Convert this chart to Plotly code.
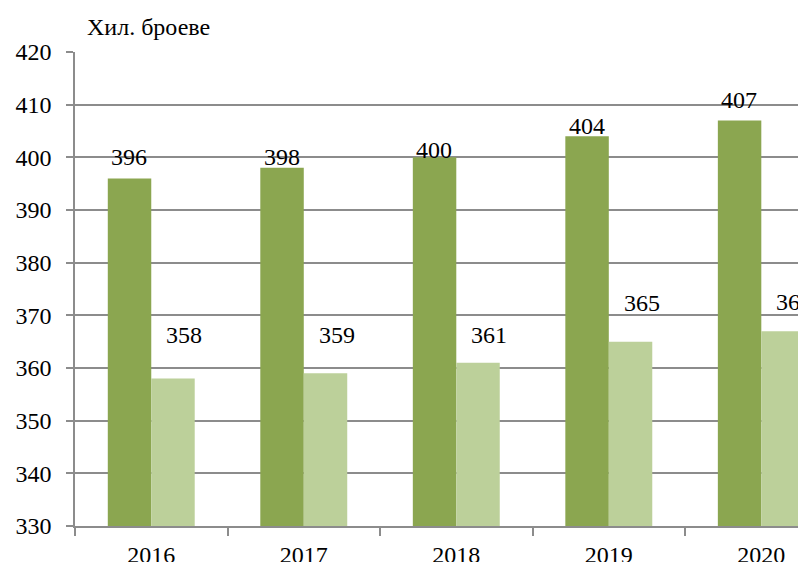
import plotly.graph_objects as go

years = ["2016", "2017", "2018", "2019", "2020"]
series_a = [396, 398, 400, 404, 407]
series_b = [358, 359, 361, 365, 367]
y_title = "Хил. броеве"

dark = "#8BA650"
light = "#BCD09A"
grid = "#8C8C8C"
font = "Liberation Serif, Times New Roman, DejaVu Serif, serif"
fs = 24

fig = go.Figure()
fig.add_bar(x=years, y=series_a, marker=dict(color=dark, line=dict(width=0)),
            cliponaxis=False)
fig.add_bar(x=years, y=series_b, marker=dict(color=light, line=dict(width=0)),
            cliponaxis=False)

# label placement above each bar (pixels), as in the reference
shifts_a = [21, 11, 7, 10, 20]
shifts_b = [44, 38, 28, 39, 29]
for i, (v, s) in enumerate(zip(series_a, shifts_a)):
    fig.add_annotation(x=i, y=v, text=str(v), showarrow=False, xshift=-22, yshift=s,
                       yanchor="middle", font=dict(family=font, size=fs, color="black"))
for i, (v, s) in enumerate(zip(series_b, shifts_b)):
    fig.add_annotation(x=i, y=v, text=str(v), showarrow=False, xshift=33, yshift=s,
                       yanchor="middle", font=dict(family=font, size=fs, color="black"))

fig.update_layout(
    width=798, height=554,
    margin=dict(l=67, r=0, t=44, b=36),
    paper_bgcolor="white", plot_bgcolor="white",
    barmode="group", bargap=0.43, bargroupgap=0,
    showlegend=False,
    font=dict(family=font, size=fs, color="black"),
)
fig.update_xaxes(
    type="category", range=[-0.5, 4.293], automargin=False,
    showline=True, linecolor=grid, linewidth=1.5,
    ticks="outside", tickson="boundaries", ticklen=8, tickcolor=grid, tickwidth=1.5,
    showgrid=False, tickfont=dict(family=font, size=fs, color="black"),
    ticklabelstandoff=6,
)
fig.update_yaxes(
    range=[330, 420], dtick=10, tick0=330, automargin=False,
    showline=True, linecolor=grid, linewidth=1.5,
    ticks="outside", ticklen=7, tickcolor=grid, tickwidth=1.5,
    showgrid=True, gridcolor=grid, gridwidth=1.5, zeroline=False,
    tickfont=dict(family=font, size=fs, color="black"),
    ticklabelstandoff=10,
)
fig.add_annotation(xref="paper", yref="paper", x=0.0137, y=1.0, yshift=10,
                   text=y_title, showarrow=False, xanchor="left", yanchor="bottom",
                   font=dict(family=font, size=fs, color="black"))

fig.write_html("out.html")
